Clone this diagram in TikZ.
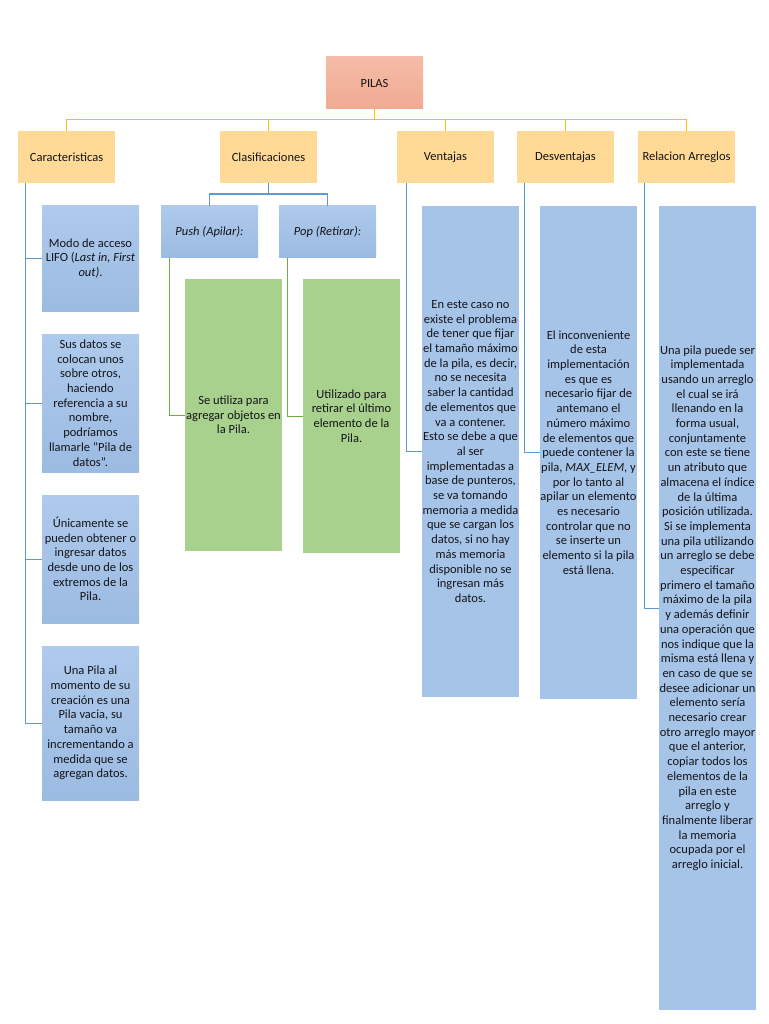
\documentclass[tikz,border=0pt]{standalone}
\usepackage{fontspec}
\setmainfont{Carlito}
\definecolor{salmon}{RGB}{244,178,156}
\definecolor{salmontop}{RGB}{246,188,168}
\definecolor{salmonbot}{RGB}{240,170,146}
\definecolor{ybox}{RGB}{255,217,150}
\definecolor{bbox}{RGB}{166,196,232}
\definecolor{bboxtop}{RGB}{174,202,236}
\definecolor{bboxbot}{RGB}{156,187,226}
\definecolor{gbox}{RGB}{169,209,142}
\definecolor{yline}{RGB}{255,192,0}
\definecolor{bline}{RGB}{91,155,213}
\definecolor{gline}{RGB}{112,173,71}
\definecolor{txt}{RGB}{20,20,25}
\tikzset{
  base/.style={inner sep=0pt, align=center, text=txt,
    font=\fontsize{12.5}{14.7}\selectfont},
  topbox/.style={base, top color=salmontop, bottom color=salmonbot,
    minimum width=97pt, minimum height=52pt},
  catbox/.style={base, fill=ybox, minimum width=97pt, minimum height=52pt},
  bluebox/.style={base, fill=bbox, minimum width=97pt},
  lbluebox/.style={base, top color=bboxtop, bottom color=bboxbot, minimum width=97pt},
  greenbox/.style={base, fill=gbox, minimum width=97pt},
  yconn/.style={draw=yline, line width=1pt},
  bconn/.style={draw=bline, line width=1pt},
  bconnt/.style={draw=bline, line width=1.6pt},
  gconn/.style={draw=gline, line width=1pt}
}
\begin{document}
\begin{tikzpicture}[x=1pt,y=-1pt]
\useasboundingbox (0,0) rectangle (768,1024);

% top
\node[topbox] (pilas) at (374.5,83) {PILAS};

% categories
\node[catbox] (car) at (66.5,157) {Caracteristicas};
\node[catbox] (cla) at (268.5,157) {Clasificaciones};
\node[catbox] (ven) at (445.5,157) {Ventajas};
\node[catbox] (des) at (565.5,157) {Desventajas};
\node[catbox] (rel) at (686.5,157) {Relacion Arreglos};

% caracteristicas column
\node[lbluebox, minimum height=105pt] (c1) at (90.5,258.5)
  {Modo de acceso\\LIFO (\textit{Last in, First}\\\textit{out)}.};
\node[lbluebox, minimum height=138pt] (c2) at (90.5,403)
  {Sus datos se\\colocan unos\\sobre otros,\\haciendo\\referencia a su\\nombre,\\podríamos\\llamarle "Pila de\\datos".};
\node[lbluebox, minimum height=128pt] (c3) at (90.5,559)
  {Únicamente se\\pueden obtener o\\ingresar datos\\desde uno de los\\extremos de la\\Pila.};
\node[lbluebox, minimum height=154pt] (c4) at (90.5,723)
  {Una Pila al\\momento de su\\creación es una\\Pila vacia, su\\tamaño va\\incrementando a\\medida que se\\agregan datos.};

% clasificaciones
\node[lbluebox, minimum height=51pt] (push) at (209.5,231.5) {\textit{Push (Apilar):}};
\node[lbluebox, minimum height=51pt] (pop) at (327.5,231.5) {\textit{Pop (Retirar):}};
\node[greenbox, minimum height=272pt] (g1) at (233.5,415)
  {Se utiliza para\\agregar objetos en\\la Pila.};
\node[greenbox, minimum height=274pt] (g2) at (351.5,416)
  {Utilizado para\\retirar el último\\elemento de la\\Pila.};

% ventajas
\node[bluebox, minimum height=491pt] (vb) at (470.5,451.5)
  {En este caso no\\existe el problema\\de tener que fijar\\el tamaño máximo\\de la pila, es decir,\\no se necesita\\saber la cantidad\\de elementos que\\va a contener.\\Esto se debe a que\\al ser\\implementadas a\\base de punteros,\\se va tomando\\memoria a medida\\que se cargan los\\datos, si no hay\\más memoria\\disponible no se\\ingresan más\\datos.};

% desventajas
\node[bluebox, minimum height=493pt] (db) at (588.5,452.5)
  {El inconveniente\\de esta\\implementación\\es que es\\necesario fijar de\\antemano el\\número máximo\\de elementos que\\puede contener la\\pila, \textit{MAX\_ELEM}, y\\por lo tanto al\\apilar un elemento\\es necesario\\controlar que no\\se inserte un\\elemento si la pila\\está llena.};

% relacion arreglos
\node[bluebox, minimum height=804pt] (rb) at (707.5,608)
  {Una pila puede ser\\implementada\\usando un arreglo\\el cual se irá\\llenando en la\\forma usual,\\conjuntamente\\con este se tiene\\un atributo que\\almacena el índice\\de la última\\posición utilizada.\\Si se implementa\\una pila utilizando\\un arreglo se debe\\especificar\\primero el tamaño\\máximo de la pila\\y además definir\\una operación que\\nos indique que la\\misma está llena y\\en caso de que se\\desee adicionar un\\elemento sería\\necesario crear\\otro arreglo mayor\\que el anterior,\\copiar todos los\\elementos de la\\pila en este\\arreglo y\\finalmente liberar\\la memoria\\ocupada por el\\arreglo inicial.};

% yellow connectors
\draw[yconn] (pilas.south) -- ++(0,11);
\draw[yconn] (car.north) -- ++(0,-11) -| (rel.north);
\draw[yconn] (cla.north) -- ++(0,-11);
\draw[yconn] (ven.north) -- ++(0,-11);
\draw[yconn] (des.north) -- ++(0,-11);

% blue connectors
\draw[bconn] ([xshift=8pt]car.south west) |- (c1.west);
\draw[bconn] ([xshift=8pt]car.south west) |- (c2.west);
\draw[bconn] ([xshift=8pt]car.south west) |- (c3.west);
\draw[bconn] ([xshift=8pt]car.south west) |- (c4.west);
\draw[bconnt] (cla.south) -- ++(0,11) -| (push.north);
\draw[bconnt] (cla.south) -- ++(0,11) -| (pop.north);
\draw[bconn] ([xshift=10pt]ven.south west) |- (vb.west);
\draw[bconn] ([xshift=8pt]des.south west) |- (db.west);
\draw[bconn] ([xshift=7pt]rel.south west) |- (rb.west);

% green connectors
\draw[gconn] ([xshift=9pt]push.south west) |- (g1.west);
\draw[gconn] ([xshift=9pt]pop.south west) |- (g2.west);
\end{tikzpicture}
\end{document}
